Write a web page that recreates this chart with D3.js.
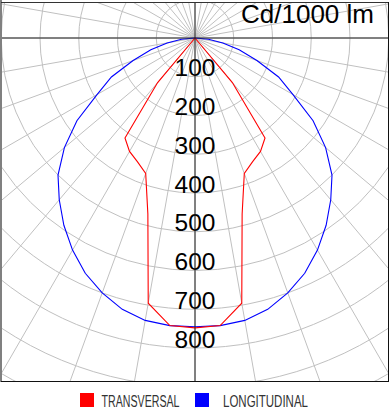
<!DOCTYPE html>
<html><head><meta charset="utf-8">
<script src="https://cdn.jsdelivr.net/npm/d3@7"></script>
<style>body{margin:0;background:#fff}svg{display:block}</style>
</head><body>
<svg id="c" width="390" height="415"></svg>
<script>
const gammaAngles = [0,5,10,15,20,25,30,35,40,45,50,55,60,65,70,75,80,85,90];
const transversal = [748,745,695,470,372,352,338,315,150,0,0,0,0,0,0,0,0,0,0];
const longitudinal = [745,745,740,725,700,670,632,590,545,500,440,372,292,238,170,118,73,35,0];
const ringValues = [100,200,300,400,500,600,700,800,900,1000];
const ringLabels = [100,200,300,400,500,600,700,800];
const seriesNames = ["TRANSVERSAL","LONGITUDINAL"];
const seriesColors = ["#ff0000","#0000ff"];
const unitLabel = "Cd/1000 lm";

const svg = d3.select("#c");
const cx = 195, cy = 38;
const frame = {x0:1, y0:2, x1:388, y1:381};
const r = d3.scaleLinear().domain([0,100]).range([0,38.75]);

svg.append("defs").append("clipPath").attr("id","clip")
  .append("rect").attr("x",frame.x0).attr("y",frame.y0)
  .attr("width",frame.x1-frame.x0).attr("height",frame.y1-frame.y0);

const g = svg.append("g").attr("clip-path","url(#clip)");
const pg = g.append("g").attr("transform",`translate(${cx},${cy})`);

// grid circles
pg.selectAll("circle.ring").data(ringValues).join("circle")
  .attr("r",d=>r(d)).attr("fill","none").attr("stroke","#c0c0c0").attr("stroke-width",1);
// rays every 10 deg
const rayAngles = d3.range(0,360,10);
pg.selectAll("line.ray").data(rayAngles).join("line")
  .attr("x1",0).attr("y1",0)
  .attr("x2",d=>600*Math.sin(d*Math.PI/180)).attr("y2",d=>600*Math.cos(d*Math.PI/180))
  .attr("stroke","#c0c0c0").attr("stroke-width",1);

// axes
g.append("line").attr("x1",0).attr("x2",390).attr("y1",cy).attr("y2",cy).attr("stroke","#222").attr("stroke-width",1);
g.append("line").attr("x1",cx).attr("x2",cx).attr("y1",0).attr("y2",400).attr("stroke","#222").attr("stroke-width",1);

// curves
function fullCurve(vals){
  const pts = [];
  for(let i=gammaAngles.length-1;i>=0;i--) pts.push([Math.PI + gammaAngles[i]*Math.PI/180, r(vals[i])]);
  for(let i=1;i<gammaAngles.length;i++) pts.push([Math.PI - gammaAngles[i]*Math.PI/180, r(vals[i])]);
  return pts;
}
const line = d3.lineRadial().angle(d=>d[0]).radius(d=>d[1]).curve(d3.curveLinear);
[longitudinal, transversal].forEach((vals,k)=>{
  pg.append("path").attr("d",line(fullCurve(vals)))
    .attr("fill","none").attr("stroke",k===0?seriesColors[1]:seriesColors[0]).attr("stroke-width",1.1);
});

// ring labels
pg.selectAll("text.rl").data(ringLabels).join("text")
  .attr("x",0).attr("y",d=>r(d)-0.5)
  .attr("text-anchor","middle")
  .attr("font-family","Liberation Sans, Arial, sans-serif").attr("font-size",24.5)
  .attr("fill","#000").text(d=>d);

// unit label
svg.append("text").attr("x",374).attr("y",23).attr("text-anchor","end")
  .attr("font-family","Liberation Sans, Arial, sans-serif").attr("font-size",26).attr("fill","#000")
  .text(unitLabel);

// frame
svg.append("rect").attr("x",0).attr("y",0).attr("width",2).attr("height",382).attr("fill","#808080");
svg.append("line").attr("x1",1).attr("x2",389).attr("y1",2.5).attr("y2",2.5).attr("stroke","#333");
svg.append("line").attr("x1",388.5).attr("x2",388.5).attr("y1",2).attr("y2",382).attr("stroke","#111");
svg.append("line").attr("x1",1).attr("x2",389).attr("y1",381.5).attr("y2",381.5).attr("stroke","#111");

// legend
const legX = [80,195], textX=[101.5,223], textW=[78,85];
seriesNames.forEach((n,i)=>{
  svg.append("rect").attr("x",legX[i]).attr("y",393).attr("width",14).attr("height",14).attr("fill",seriesColors[i]);
  svg.append("text").attr("x",textX[i]).attr("y",407)
    .attr("font-family","Liberation Sans Narrow, Liberation Sans, Arial, sans-serif").attr("font-size",16)
    .attr("textLength",textW[i]).attr("lengthAdjust","spacingAndGlyphs")
    .attr("fill","#333").text(n);
});
</script>
</body></html>
